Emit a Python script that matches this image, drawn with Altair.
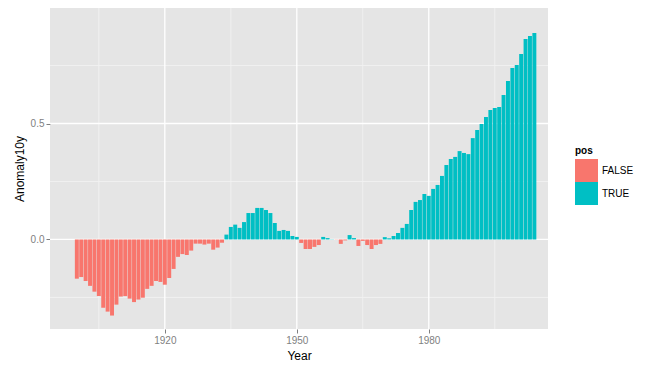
import altair as alt
import pandas as pd

years = list(range(1900, 2005))
anomaly10y = [
    -0.169, -0.162, -0.179, -0.200, -0.225, -0.244, -0.294, -0.311, -0.328, -0.281,
    -0.246, -0.244, -0.255, -0.270, -0.259, -0.251, -0.213, -0.200, -0.179, -0.183,
    -0.195, -0.166, -0.127, -0.075, -0.063, -0.067, -0.048, -0.018, -0.018, -0.022,
    -0.018, -0.044, -0.035, -0.014, 0.021, 0.054, 0.064, 0.050, 0.075, 0.114,
    0.114, 0.136, 0.136, 0.127, 0.114, 0.071, 0.037, 0.041, 0.037, 0.015,
    0.011, -0.015, -0.041, -0.041, -0.032, -0.024, 0.011, 0.006, 0.001, -0.001,
    -0.019, -0.004, 0.019, 0.006, -0.028, -0.006, -0.024, -0.041, -0.024, -0.019,
    0.010, 0.005, 0.015, 0.028, 0.050, 0.067, 0.127, 0.162, 0.170, 0.196,
    0.188, 0.218, 0.235, 0.274, 0.321, 0.347, 0.356, 0.381, 0.373, 0.368,
    0.437, 0.472, 0.498, 0.528, 0.558, 0.567, 0.571, 0.623, 0.683, 0.739,
    0.752, 0.800, 0.864, 0.877, 0.890,
]
assert len(years) == len(anomaly10y)
pos = ["TRUE" if v >= 0 else "FALSE" for v in anomaly10y]

major_x = [1920, 1950, 1980]
minor_x = [1905, 1935, 1965, 1995]
major_y = [0.0, 0.5]
minor_y = [-0.25, 0.25, 0.75]

df = pd.DataFrame({"Year": years, "Anomaly10y": anomaly10y, "pos": pos})

xscale = alt.Scale(domain=[1893.9, 2007.1], nice=False, zero=False)
yscale = alt.Scale(domain=[-0.386, 0.998], nice=False, zero=False)

xaxis = alt.Axis(values=major_x, format="d", grid=False, title="Year",
                 labelPadding=2, titlePadding=5)
yaxis = alt.Axis(values=major_y, format=".1f", grid=False, title="Anomaly10y",
                 labelPadding=2, titlePadding=4)

minor_v = alt.Chart(pd.DataFrame({"Year": minor_x})).mark_rule(
    color="#F2F2F2", strokeWidth=0.9
).encode(x=alt.X("Year:Q", scale=xscale, axis=xaxis))
minor_h = alt.Chart(pd.DataFrame({"Anomaly10y": minor_y})).mark_rule(
    color="#F2F2F2", strokeWidth=0.9
).encode(y=alt.Y("Anomaly10y:Q", scale=yscale, axis=yaxis))
major_v = alt.Chart(pd.DataFrame({"Year": major_x})).mark_rule(
    color="#FFFFFF", strokeWidth=1.3
).encode(x=alt.X("Year:Q", scale=xscale, axis=xaxis))
major_h = alt.Chart(pd.DataFrame({"Anomaly10y": major_y})).mark_rule(
    color="#FFFFFF", strokeWidth=1.3
).encode(y=alt.Y("Anomaly10y:Q", scale=yscale, axis=yaxis))

bars = alt.Chart(df).transform_calculate(
    x1="datum.Year - 0.45", x2="datum.Year + 0.45"
).mark_bar(strokeWidth=0).encode(
    x=alt.X("x1:Q", scale=xscale, axis=xaxis),
    x2="x2:Q",
    y=alt.Y("Anomaly10y:Q", scale=yscale, axis=yaxis),
    y2=alt.datum(0),
    color=alt.Color(
        "pos:N",
        scale=alt.Scale(domain=["FALSE", "TRUE"], range=["#F8766D", "#00BFC4"]),
        legend=alt.Legend(
            title="pos", orient="none", legendX=525, legendY=138,
            symbolType="square", symbolSize=529, symbolStrokeWidth=0,
            symbolOpacity=1, rowPadding=0, labelOffset=4, titlePadding=3,
            titleFontSize=10, titleFontWeight="bold", titleColor="black",
            labelFontSize=10, labelColor="black",
        ),
    ),
)

chart = alt.layer(minor_v, minor_h, major_v, major_h, bars).properties(
    width=498, height=321,
    padding={"left": 42, "top": 0, "right": 114, "bottom": 38},
    autosize=alt.AutoSizeParams(type="none"),
).configure(
    font="Liberation Sans"
).configure_view(
    fill="#E5E5E5", strokeWidth=0
).configure_axis(
    labelFontSize=10, labelColor="#7F7F7F", tickColor="#7F7F7F", tickSize=4,
    domain=False, titleFontSize=12, titleFontWeight="normal", titleColor="black",
)

chart.save("out.html", embed_options={"renderer": "svg", "actions": False})
